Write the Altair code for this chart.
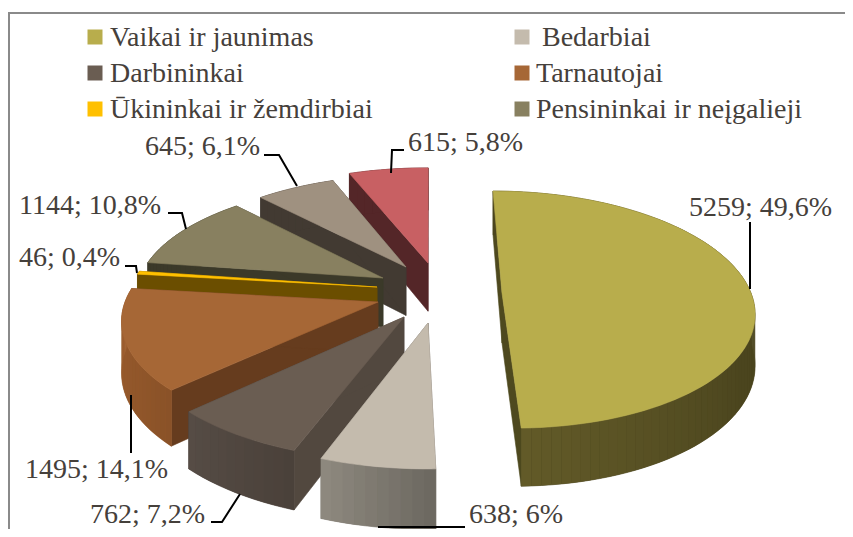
import math
import altair as alt

# ---- values
categories = ["Vaikai ir jaunimas", "Bedarbiai", "Darbininkai", "Tarnautojai",
              "Ūkininkai ir žemdirbiai", "Pensininkai ir neįgalieji", "Kiti 1", "Kiti 2"]
values = [5259, 638, 762, 1495, 46, 1144, 645, 615]
data_labels = ["5259; 49,6%", "638; 6%", "762; 7,2%", "1495; 14,1%",
               "46; 0,4%", "1144; 10,8%", "645; 6,1%", "615; 5,8%"]
top_colors = ["#B8AD4C", "#C4BBAD", "#6A5D52", "#A66736", "#FFC000", "#888060", "#9F9180", "#C86063"]
wall_colors = ["#4E491F", "#6B675F", "#52483F", "#663C1E", "#6B4E00", "#3B3929", "#423A32", "#542628"]
outer_stops = [
    ["#4B451E", "#4B451E", "#4B451E", "#625A28"],
    ["#6B675F", "#8F8A80"],
    ["#4A413A", "#564C45"],
    ["#8A5228", "#A0602F"],
    ["#6B4E00", "#6B4E00"],
    ["#3B3929", "#3B3929"],
    ["#423A32", "#423A32"],
    ["#542628", "#542628"],
]

# ---- layout of the exploded, tilted pie (page pixels)
apex = [(502, 293), (428, 323), (404, 317), (378, 302), (377, 287), (383, 278), (406, 267), (428, 263)]
radius = [1.0, 1.0, 1.0, 0.97, 0.96, 0.96, 0.95, 1.0]
widen = [0.965, 1.0, 1.0, 1.0, 1.0, 1.0, 1.0, 1.0]
paint_order = [7, 6, 5, 4, 3, 2, 1, 0]
CX, CY, AX, BY, PERSP, THICK = 429, 293, 258, 116.2, 0.14, 50
OX, OY = 8, 8

legend_cat = [0, 1, 2, 3, 4, 5]
legend_sw = [(95, 37), (522, 37), (95, 73), (522, 73), (95, 109), (522, 109)]
legend_tx = [(110, 38), (542, 38), (110, 74), (536, 74), (110, 110), (536, 110)]
label_pos = [(689, 208), (469, 515), (90, 515), (25, 470), (19, 258), (19, 206), (145, 147), (408, 143)]
leaders = [
    [(750, 222), (750, 289)],
    [(465, 527), (378, 527)],
    [(211, 522), (222, 522), (240, 494)],
    [(131, 453), (131, 395)],
    [(125, 266), (136, 266), (137, 273)],
    [(168, 213), (182, 213), (186, 229)],
    [(264, 155), (279, 155), (297, 186)],
    [(404, 150), (392, 150), (391, 173)],
]


def project(u, v, h=0.0):
    s = 1 / (1 - PERSP * v)
    return [CX + AX * u * s - OX, CY + BY * v * s + THICK * h * s - OY]


def unproject(X, Y):
    y = Y - CY
    v = y / (BY + PERSP * y)
    return (X - CX) * (1 - PERSP * v) / AX, v


def mix(stops, t):
    t = min(max(t, 0), 1) * (len(stops) - 1)
    i = min(int(t), len(stops) - 2)
    f = t - i
    a, b = stops[i], stops[i + 1]
    ca = [int(a[k:k + 2], 16) for k in (1, 3, 5)]
    cb = [int(b[k:k + 2], 16) for k in (1, 3, 5)]
    return "#%02X%02X%02X" % tuple(round(x + (y - x) * f) for x, y in zip(ca, cb))


def poly(points, color, w=0.6):
    ring = [list(p) for p in points] + [list(points[0])]
    return {"type": "Feature", "properties": {"c": color, "w": w},
            "geometry": {"type": "Polygon", "coordinates": [ring]}}


total = sum(values)
starts = [sum(values[:i]) / total * 2 * math.pi for i in range(len(values))]
ends = [sum(values[:i + 1]) / total * 2 * math.pi for i in range(len(values))]

features = []
for i in paint_order:
    u0, v0 = unproject(*apex[i])
    R = radius[i]
    n = max(2, int((ends[i] - starts[i]) / math.radians(2)))
    angs = [starts[i] + (ends[i] - starts[i]) * k / n for k in range(n + 1)]
    rim = [(u0 + R * widen[i] * math.sin(a), v0 - R * math.cos(a)) for a in angs]
    for e in (rim[0], rim[-1]):
        features.append(poly([project(u0, v0), project(*e), project(e[0], e[1], 1), project(u0, v0, 1)],
                             wall_colors[i]))
    features.append(poly([project(*p) for p in rim] + [project(p[0], p[1], 1) for p in reversed(rim)],
                         mix(outer_stops[i], 0.5)))
    for k in range(n):
        a, b = rim[k], rim[k + 1]
        features.append(poly([project(*a), project(*b), project(b[0], b[1], 1), project(a[0], a[1], 1)],
                             mix(outer_stops[i], (k + 0.5) / n), 0))
    features.append(poly([project(u0, v0)] + [project(*p) for p in rim], top_colors[i]))

W, H = 837, 521

pie = alt.Chart(alt.Data(values=features)).mark_geoshape().encode(
    color=alt.Color("properties.c:N", scale=None),
    stroke=alt.Stroke("properties.c:N", scale=None),
    strokeWidth=alt.StrokeWidth("properties.w:Q", scale=None),
).project(type="identity", scale=1, translate=[0, 0])

frame_rows = [
    {"g": "f", "o": 0, "x": 1, "y": H},
    {"g": "f", "o": 1, "x": 1, "y": 5},
    {"g": "f", "o": 2, "x": W, "y": 5},
]
frame = alt.Chart(alt.Data(values=frame_rows)).mark_line(color="#8A8A8A", strokeWidth=2).encode(
    x=alt.X("x:Q", scale=None, axis=None), y=alt.Y("y:Q", scale=None, axis=None),
    detail="g:N", order="o:Q")

leader_rows = []
for i, pts in enumerate(leaders):
    for j, (x, y) in enumerate(pts):
        leader_rows.append({"g": i, "o": j, "x": x - OX, "y": y - OY})
lead = alt.Chart(alt.Data(values=leader_rows)).mark_line(color="#000000", strokeWidth=2).encode(
    x=alt.X("x:Q", scale=None, axis=None), y=alt.Y("y:Q", scale=None, axis=None),
    detail="g:N", order="o:Q")

label_rows = [{"t": t, "x": p[0] - OX, "y": p[1] - OY} for t, p in zip(data_labels, label_pos)]
labels = alt.Chart(alt.Data(values=label_rows)).mark_text(
    font="Liberation Serif", fontSize=28, align="left", baseline="middle", color="#45403B").encode(
    x=alt.X("x:Q", scale=None, axis=None), y=alt.Y("y:Q", scale=None, axis=None), text="t:N")

sw_rows = [{"x": s[0] - OX, "y": s[1] - OY, "c": top_colors[c]} for c, s in zip(legend_cat, legend_sw)]
swatches = alt.Chart(alt.Data(values=sw_rows)).mark_square(size=225, opacity=1, strokeWidth=0).encode(
    x=alt.X("x:Q", scale=None, axis=None), y=alt.Y("y:Q", scale=None, axis=None),
    color=alt.Color("c:N", scale=None))

leg_rows = [{"t": categories[c], "x": p[0] - OX, "y": p[1] - OY} for c, p in zip(legend_cat, legend_tx)]
legend_text = alt.Chart(alt.Data(values=leg_rows)).mark_text(
    font="Liberation Serif", fontSize=28, align="left", baseline="middle", color="#45403B").encode(
    x=alt.X("x:Q", scale=None, axis=None), y=alt.Y("y:Q", scale=None, axis=None), text="t:N")

chart = alt.layer(pie, frame, lead, labels, swatches, legend_text).resolve_scale(
    color="independent", stroke="independent"
).properties(width=W, height=H, padding=0, background="#FFFFFF",
             autosize=alt.AutoSizeParams(type="none")).configure_view(stroke=None)

chart.save("out.html", embed_options={"renderer": "svg", "actions": False})
